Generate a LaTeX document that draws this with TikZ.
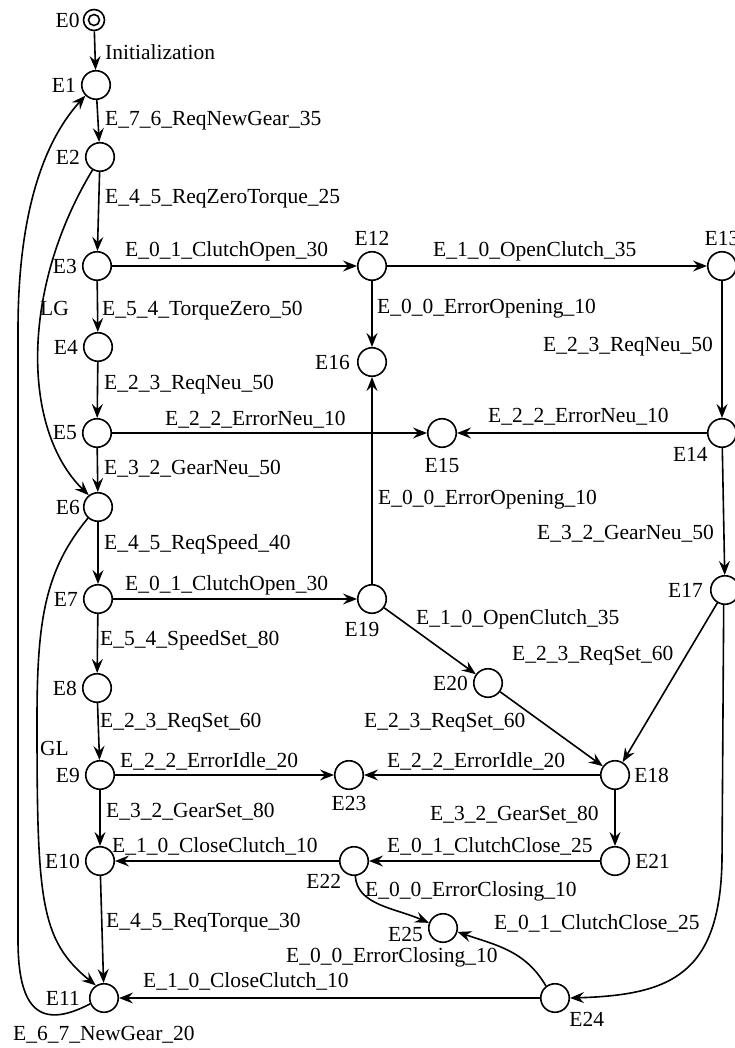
\documentclass[tikz,border=0pt]{standalone}
\usepackage{fontspec}
\setmainfont{Liberation Serif}
\newfontfamily\tnrfont{Liberation Serif}
\usetikzlibrary{arrows.meta}
\newcommand\elfont{\tnrfont\fontsize{21.5}{24}\selectfont}
\begin{document}
\begin{tikzpicture}[x=1pt,y=-1pt,
  st/.style={circle,draw,line width=1.6pt,minimum size=28.5pt,inner sep=0pt},
  tr/.style={line width=1.6pt,-{Stealth[length=14pt,width=11pt,inset=5pt]}},
  ln/.style={line width=1.6pt},
  el/.style={anchor=base west,inner sep=0pt,yshift=-7pt,font=\elfont},
  nl/.style={inner sep=0pt,font=\elfont,label distance=5pt}
]
\useasboundingbox (0,0) rectangle (735,1048);
% states
\node[st,minimum size=21pt,label={[nl,label distance=3pt]left:E0}] (E0) at (94,20) {};
\draw[ln] (E0.center) circle (5.5pt);
\node[st,label={[nl]left:E1}] (E1) at (96,85) {};
\node[st,label={[nl]left:E2}] (E2) at (100,157) {};
\node[st,label={[nl]left:E3}] (E3) at (97,266) {};
\node[st,label={[nl]left:E4}] (E4) at (98,347) {};
\node[st,label={[nl]left:E5}] (E5) at (97,433) {};
\node[st,label={[nl,label distance=3pt]left:E6}] (E6) at (98,507) {};
\node[st,label={[nl]left:E7}] (E7) at (98,599) {};
\node[st,label={[nl]left:E8}] (E8) at (97,688) {};
\node[st,label={[nl]left:E9}] (E9) at (100,775) {};
\node[st,label={[nl]left:E10}] (E10) at (100,861) {};
\node[st,label={[nl,label distance=9pt]left:E11}] (E11) at (104,998) {};
\node[st,label={[nl]above:E12}] (E12) at (372,266) {};
\node[st,label={[nl]above:E13}] (E13) at (722,266) {};
\node[st,label={[nl]below left:E14}] (E14) at (722,433) {};
\node[st,label={[nl,label distance=10pt]below:E15}] (E15) at (442,433) {};
\node[st,label={[nl,label distance=7pt]left:E16}] (E16) at (372,362) {};
\node[st,label={[nl,label distance=7pt]left:E17}] (E17) at (725,590) {};
\node[st,label={[nl,label distance=4pt]right:E18}] (E18) at (615,775) {};
\node[st,label={[nl,label distance=8pt,xshift=-10pt]below:E19}] (E19) at (372,599) {};
\node[st,label={[nl]left:E20}] (E20) at (488,683) {};
\node[st,label={[nl]right:E21}] (E21) at (615,861) {};
\node[st,label={[nl,label distance=3pt]below left:E22}] (E22) at (354,861) {};
\node[st,label={[nl,label distance=6pt]below:E23}] (E23) at (349,775) {};
\node[st,label={[nl]below right:E24}] (E24) at (555,998) {};
\node[st,label={[nl,label distance=5pt,yshift=-6pt]left:E25}] (E25) at (443,928) {};
% edge labels
\node[el] (l1) at (105,53) {Initialization};
\node[el] (l2) at (105,119) {E\_7\_6\_ReqNewGear\_35};
\node[el] (l3) at (105,197) {E\_4\_5\_ReqZeroTorque\_25};
\node[el] (l4) at (125,250) {E\_0\_1\_ClutchOpen\_30};
\node[el] (l5) at (433,250) {E\_1\_0\_OpenClutch\_35};
\node[el] (l6) at (377,306) {E\_0\_0\_ErrorOpening\_10};
\node[el] (l7) at (102,308) {E\_5\_4\_TorqueZero\_50};
\node[el] (l8) at (40,308) {LG};
\node[el] (l9) at (104,382) {E\_2\_3\_ReqNeu\_50};
\node[el] (l10) at (543,344) {E\_2\_3\_ReqNeu\_50};
\node[el] (l11) at (165,418) {E\_2\_2\_ErrorNeu\_10};
\node[el] (l12) at (488,415) {E\_2\_2\_ErrorNeu\_10};
\node[el] (l13) at (104,467) {E\_3\_2\_GearNeu\_50};
\node[el] (l14) at (378,497) {E\_0\_0\_ErrorOpening\_10};
\node[el] (l15) at (537,532) {E\_3\_2\_GearNeu\_50};
\node[el] (l16) at (104,542) {E\_4\_5\_ReqSpeed\_40};
\node[el] (l17) at (125,583) {E\_0\_1\_ClutchOpen\_30};
\node[el] (l18) at (416,617) {E\_1\_0\_OpenClutch\_35};
\node[el] (l19) at (100,638) {E\_5\_4\_SpeedSet\_80};
\node[el] (l20) at (512,653) {E\_2\_3\_ReqSet\_60};
\node[el] (l21) at (100,720) {E\_2\_3\_ReqSet\_60};
\node[el] (l22) at (364,720) {E\_2\_3\_ReqSet\_60};
\node[el] (l23) at (40,748) {GL};
\node[el] (l24) at (120,760) {E\_2\_2\_ErrorIdle\_20};
\node[el] (l25) at (387,760) {E\_2\_2\_ErrorIdle\_20};
\node[el] (l26) at (106,810) {E\_3\_2\_GearSet\_80};
\node[el] (l27) at (430,813) {E\_3\_2\_GearSet\_80};
\node[el] (l28) at (112,845) {E\_1\_0\_CloseClutch\_10};
\node[el] (l29) at (387,845) {E\_0\_1\_ClutchClose\_25};
\node[el] (l30) at (365,889) {E\_0\_0\_ErrorClosing\_10};
\node[el] (l31) at (106,920) {E\_4\_5\_ReqTorque\_30};
\node[el] (l32) at (494,922) {E\_0\_1\_ClutchClose\_25};
\node[el] (l33) at (286,955) {E\_0\_0\_ErrorClosing\_10};
\node[el] (l34) at (143,980) {E\_1\_0\_CloseClutch\_10};
\node[el] (l35) at (13,1033) {E\_6\_7\_NewGear\_20};
% straight transitions
\draw[tr] (E0) -- (E1);
\draw[tr] (E1) -- (E2);
\draw[tr] (E2) -- (E3);
\draw[tr] (E3) -- (E4);
\draw[tr] (E4) -- (E5);
\draw[tr] (E5) -- (E6);
\draw[tr] (E6) -- (E7);
\draw[tr] (E7) -- (E8);
\draw[tr] (E8) -- (E9);
\draw[tr] (E9) -- (E10);
\draw[tr] (E10) -- (E11);
\draw[tr] (E3) -- (E12);
\draw[tr] (E12) -- (E13);
\draw[tr] (E12) -- (E16);
\draw[tr] (E13) -- (E14);
\draw[tr] (E5) -- (E15);
\draw[tr] (E14) -- (E15);
\draw[tr] (E14) -- (E17);
\draw[tr] (E7) -- (E19);
\draw[tr] (E19) -- (E16);
\draw[tr] (E19) -- (E20);
\draw[tr] (E20) -- (E18);
\draw[tr] (E17) -- (E18);
\draw[tr] (E9) -- (E23);
\draw[tr] (E18) -- (E23);
\draw[tr] (E18) -- (E21);
\draw[tr] (E21) -- (E22);
\draw[tr] (E22) -- (E10);
\draw[tr] (E24) -- (E11);
% curved transitions
\draw[tr] (E2.240) .. controls (20,290) and (22,430) .. (E6.128);
\draw[tr] (E6.228) .. controls (45,570) and (37,620) .. (37,720) .. controls (37,900) and (40,940) .. (E11.123);
\draw[tr] (E11.203) .. controls (40,1030) and (18,1010) .. (18,940) -- (18,330) .. controls (18,210) and (45,140) .. (E1.225);
\draw[tr] (E17.265) -- (722,860) .. controls (720,975) and (670,995) .. (E24.east);
\draw[tr] (E22.275) .. controls (357,905) and (395,908) .. (E25.160);
\draw[tr] (E24.127) .. controls (525,950) and (495,945) .. (E25.-15);
\end{tikzpicture}
\end{document}
